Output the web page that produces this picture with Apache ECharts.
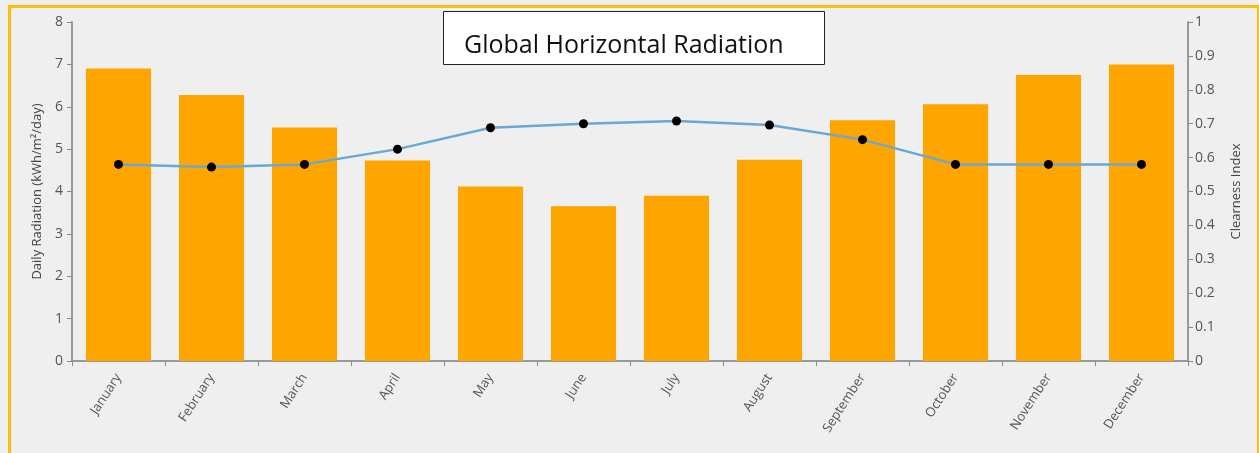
<!DOCTYPE html>
<html>
<head>
<meta charset="utf-8">
<script src="https://cdn.jsdelivr.net/npm/echarts@6/dist/echarts.min.js"></script>
<style>
  html, body { margin: 0; padding: 0; background: #fff; }
  #chart { width: 1259px; height: 453px; }
</style>
</head>
<body>
<div id="chart"></div>
<script>
var months = ['January', 'February', 'March', 'April', 'May', 'June', 'July', 'August', 'September', 'October', 'November', 'December'];
var dailyRadiation = [6.9, 6.28, 5.51, 4.73, 4.12, 3.65, 3.9, 4.75, 5.68, 6.06, 6.75, 7.0];
var clearnessIndex = [0.58, 0.572, 0.58, 0.625, 0.688, 0.7, 0.708, 0.696, 0.653, 0.58, 0.58, 0.58];

var axisFont = '"Open Sans", "Noto Sans", sans-serif';
var chart = echarts.init(document.getElementById('chart'));

var option = {
	backgroundColor: '#efefef',
	animation: false,
	grid: {
		left: 72,
		right: 71,
		top: 22,
		bottom: 92
	},
	graphic: [
		{
			type: 'rect',
			left: 7,
			top: 4,
			shape: { width: 1249, height: 460 },
			style: { fill: 'none', stroke: '#fbbf0f', lineWidth: 3 },
			silent: true
		},
		{
			type: 'rect',
			left: 443,
			top: 11,
			z: 10,
			shape: { width: 381, height: 53 },
			style: { fill: '#ffffff', stroke: '#222222', lineWidth: 1 }
		},
		{
			type: 'text',
			left: 464,
			top: 33,
			z: 11,
			style: {
				text: 'Global Horizontal Radiation',
				fill: '#111',
				font: '25px "Open Sans", sans-serif'
			}
		}
	],
	xAxis: {
		type: 'category',
		data: months,
		axisLine: { lineStyle: { color: '#999', width: 2 } },
		axisTick: { show: true, length: 5, lineStyle: { color: '#888' } },
		axisLabel: {
			rotate: 57,
			color: '#555',
			fontSize: 13,
			fontFamily: axisFont,
			margin: 14
		}
	},
	yAxis: [
		{
			type: 'value',
			min: 0,
			max: 8,
			interval: 1,
			name: 'Daily Radiation (kWh/m²/day)',
			nameLocation: 'center',
			nameRotate: 90,
			nameGap: 27,
			nameTextStyle: { color: '#444', fontSize: 13, fontFamily: axisFont },
			axisLine: { show: true, lineStyle: { color: '#999', width: 2 } },
			axisTick: { show: true, length: 5, lineStyle: { color: '#888' } },
			axisLabel: { color: '#555', fontSize: 14, fontFamily: axisFont, margin: 9 },
			splitLine: { show: false }
		},
		{
			type: 'value',
			min: 0,
			max: 1,
			interval: 0.1,
			position: 'right',
			name: 'Clearness Index',
			nameLocation: 'center',
			nameRotate: 90,
			nameGap: 55,
			nameTextStyle: { color: '#444', fontSize: 13, fontFamily: axisFont, verticalAlign: 'bottom' },
			axisLine: { show: true, lineStyle: { color: '#999', width: 2 } },
			axisTick: { show: true, length: 5, lineStyle: { color: '#888' } },
			axisLabel: {
				color: '#555',
				fontSize: 14,
				fontFamily: axisFont,
				margin: 7,
				formatter: function (v) { return +v.toFixed(1) + ''; }
			},
			splitLine: { show: false }
		}
	],
	series: [
		{
			name: 'Daily Radiation',
			type: 'bar',
			data: dailyRadiation,
			barCategoryGap: '30%',
			itemStyle: { color: '#ffa500' }
		},
		{
			name: 'Clearness Index',
			type: 'line',
			yAxisIndex: 1,
			data: clearnessIndex,
			symbol: 'circle',
			symbolSize: 9,
			itemStyle: { color: '#000' },
			lineStyle: { color: '#6aa8d4', width: 2.5 }
		}
	]
};

chart.setOption(option);
</script>
</body>
</html>
